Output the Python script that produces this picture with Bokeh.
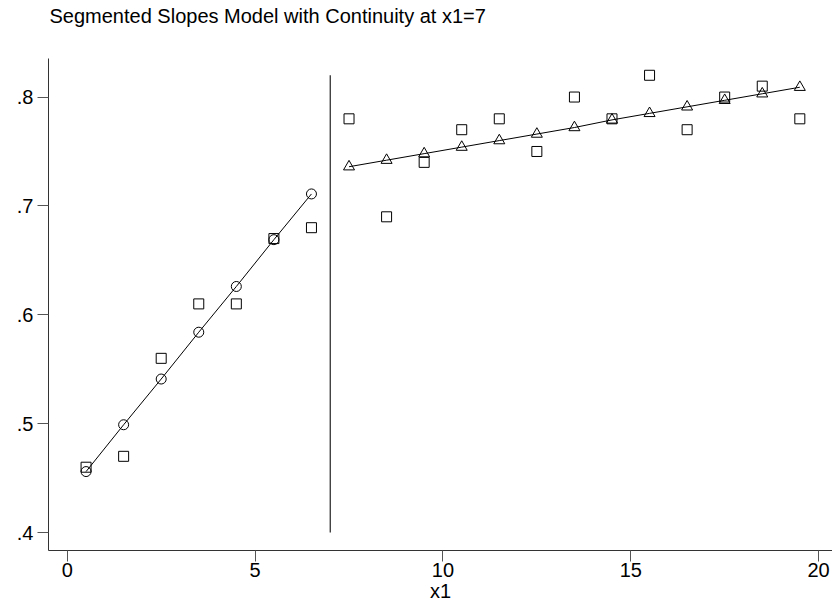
from bokeh.plotting import figure
from bokeh.models import Range1d, FixedTicker, CustomJSTickFormatter, Title
from bokeh.embed import file_html
from bokeh.resources import INLINE

# Data
x_obs = [0.5, 1.5, 2.5, 3.5, 4.5, 5.5, 6.5, 7.5, 8.5, 9.5,
         10.5, 11.5, 12.5, 13.5, 14.5, 15.5, 16.5, 17.5, 18.5, 19.5]
y_obs = [0.46, 0.47, 0.56, 0.61, 0.61, 0.67, 0.68, 0.78, 0.69, 0.74,
         0.77, 0.78, 0.75, 0.80, 0.78, 0.82, 0.77, 0.80, 0.81, 0.78]

x_fit1 = [0.5, 1.5, 2.5, 3.5, 4.5, 5.5, 6.5]
y_fit1 = [0.456, 0.499, 0.541, 0.584, 0.626, 0.669, 0.711]

x_fit2 = [7.5, 8.5, 9.5, 10.5, 11.5, 12.5, 13.5, 14.5, 15.5, 16.5, 17.5, 18.5, 19.5]
y_fit2 = [0.736, 0.742, 0.748, 0.754, 0.760, 0.766, 0.772, 0.779, 0.785, 0.791, 0.797, 0.803, 0.809]

knot = 7
knot_line_y = [0.40, 0.82]

x_ticks = [0, 5, 10, 15, 20]
y_ticks = [0.4, 0.5, 0.6, 0.7, 0.8]

title_text = "Segmented Slopes Model with Continuity at x1=7"
x_label = "x1"

FONT = "Liberation Sans"

p = figure(width=832, height=604, output_backend="svg", toolbar_location=None,
           x_range=Range1d(-0.5, 20.37), y_range=Range1d(0.3835, 0.8354),
           min_border_left=48, min_border_right=0, min_border_top=58, min_border_bottom=52)
p.outline_line_color = None
p.grid.visible = False
p.background_fill_color = "white"
p.border_fill_color = "white"

for ax in (p.xaxis[0], p.yaxis[0]):
    ax.axis_line_color = "#333333"
    ax.axis_line_width = 1
    ax.major_tick_line_color = "#555555"
    ax.major_tick_in = 0
    ax.major_tick_out = 11
    ax.minor_tick_line_color = None
    ax.major_label_text_font = FONT
    ax.major_label_text_font_size = "20px"
    ax.major_label_text_color = "black"
    ax.axis_label_text_font = FONT
    ax.axis_label_text_font_size = "20px"
    ax.axis_label_text_font_style = "normal"
    ax.axis_label_text_color = "black"

p.xaxis.ticker = FixedTicker(ticks=x_ticks)
p.yaxis.ticker = FixedTicker(ticks=y_ticks)
p.yaxis.formatter = CustomJSTickFormatter(code="return tick.toFixed(1).replace(/^0/, '');")
p.xaxis.axis_label = x_label
p.xaxis.major_label_standoff = 1
p.xaxis.axis_label_standoff = 0
p.yaxis.major_label_standoff = 4
p.yaxis.major_label_orientation = "horizontal"

# knot line
p.segment(x0=[knot], y0=[knot_line_y[0]], x1=[knot], y1=[knot_line_y[1]],
          line_color="#222222", line_width=1.2)

# fitted lines
p.line(x_fit1, y_fit1, line_color="black", line_width=1)
p.line(x_fit2, y_fit2, line_color="black", line_width=1)

# observed squares
p.scatter(x_obs, y_obs, marker="square", size=10, fill_color=None,
          line_color="black", line_width=1)
# fitted markers
p.scatter(x_fit1, y_fit1, marker="circle", size=10, fill_color=None,
          line_color="black", line_width=1)
p.scatter(x_fit2, y_fit2, marker="triangle", size=11, fill_color=None,
          line_color="black", line_width=1)

# spacer between frame and title (closest to the frame)
spacer = Title(text=" ", text_font=FONT, text_font_size="20px", standoff=8)
p.add_layout(spacer, "above")

title = Title(text=title_text, text_font=FONT, text_font_size="20px",
              text_font_style="normal", text_color="black",
              align="left", offset=1, standoff=0, vertical_align="bottom")
p.add_layout(title, "above")

open("out.html", "w").write(file_html(p, INLINE))
